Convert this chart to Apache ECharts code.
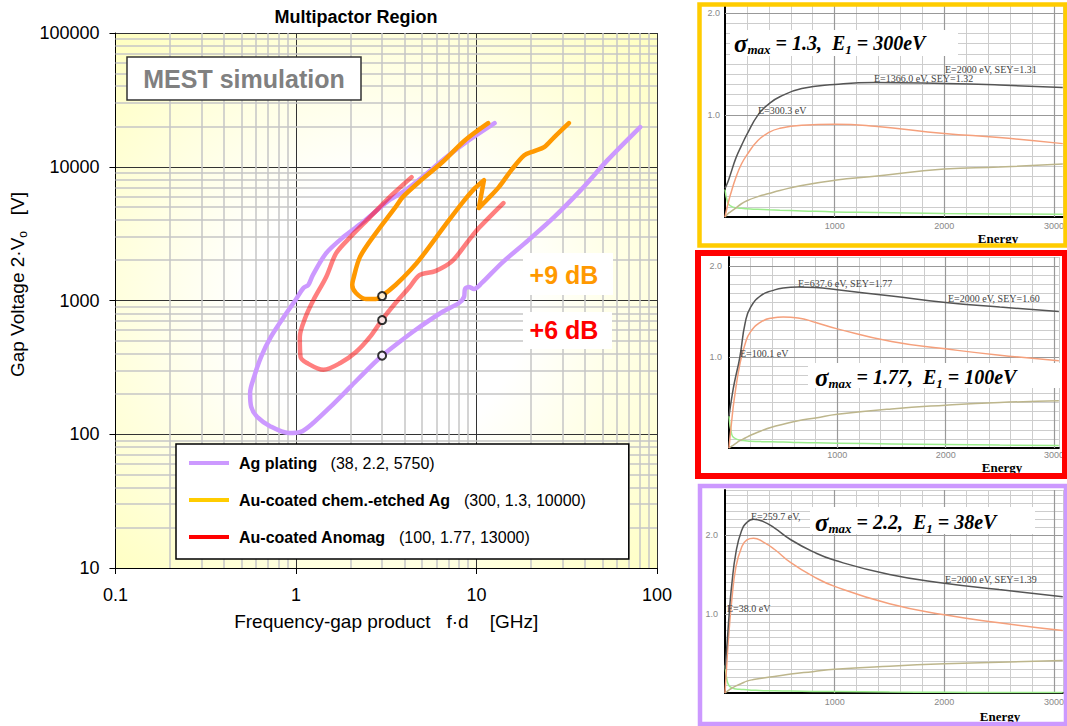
<!DOCTYPE html>
<html><head><meta charset="utf-8">
<script src="https://cdn.jsdelivr.net/npm/echarts@6/dist/echarts.min.js"></script>
<style>html,body{margin:0;padding:0;background:#fff}#c{width:1067px;height:726px}</style>
</head><body><div id="c"></div>
<script>
// ================= DATA =================
// Main chart: tick labels
const xTickLabels = ['0.1', '1', '10', '100'];
const yTickLabels = ['10', '100', '1000', '10000', '100000'];
const xMinorTicks = [0.2,0.3,0.4,0.5,0.6,0.7,0.8,0.9,2,3,4,5,6,7,8,9,20,30,40,50,60,70,80,90];
const yMinorTicks = [20,30,40,50,60,70,80,90,200,300,400,500,600,700,800,900,2000,3000,4000,5000,6000,7000,8000,9000,20000,30000,40000,50000,60000,70000,80000,90000];

// Series names + legend parameter text
const seriesNames = ['Ag plating', 'Au-coated chem.-etched Ag', 'Au-coated Anomag'];
const legendParams = ['(38, 2.2, 5750)', '(300, 1.3, 10000)', '(100, 1.77, 13000)'];

// Ag plating (purple) : f·d [GHz], gap voltage [V]
const agFd = [12.6, 9.08, 6.71, 5.01, 3.90, 3.30, 2.35, 1.83, 1.47, 1.24, 1.17, 1.10, 0.995, 0.856, 0.726, 0.640, 0.586, 0.557, 0.565, 0.609, 0.726, 0.912, 1.06, 1.25, 1.55, 2.00, 2.57, 2.99, 3.56, 4.59, 6.46, 8.00, 8.53, 8.64, 9.08, 9.68, 10.7, 13.8, 19.4, 26.9, 37.8, 53.2, 80.7];
const agV  = [21200, 15800, 11600, 8360, 6460, 5640, 3860, 2980, 2260, 1550, 1306, 1240, 1010, 753, 534, 378, 268, 204, 160, 135, 114, 102, 104, 122, 160, 226, 318, 385, 465, 602, 820, 958, 1062, 1218, 1262, 1218, 1352, 1906, 2830, 4200, 6690, 11200, 19800];

// Au-coated chem.-etched Ag (orange)
const auFd = [11.6, 8.64, 6.46, 5.01, 3.90, 3.56, 2.77, 2.26, 2.07, 2.05, 2.15, 2.44, 2.77, 2.99, 3.56, 4.31, 5.01, 6.71, 8.32, 9.80, 11.0, 10.3, 11.4, 13.3, 15.6, 18.4, 20.9, 23.7, 26.9, 32.5];
const auV  = [21200, 15800, 10800, 8080, 5930, 4990, 3190, 2110, 1420, 1306, 1138, 1026, 1026, 1081, 1306, 1690, 2150, 3660, 5350, 6920, 7940, 4910, 5640, 7040, 9440, 12200, 13100, 14000, 16600, 21200];

// Au-coated Anomag (red)
const anFd = [4.37, 3.30, 2.57, 2.00, 1.67, 1.47, 1.25, 1.13, 1.05, 1.06, 1.15, 1.42, 1.76, 2.15, 2.57, 2.99, 3.56, 4.26, 4.83, 5.91, 7.33, 9.08, 10.3, 14.1];
const anV  = [8360, 5930, 4200, 2980, 2260, 1500, 1010, 753, 534, 378, 341, 303, 341, 412, 534, 714, 958, 1262, 1550, 1660, 1970, 2830, 3480, 5350];

// Marked operating points
const dotFd = [3, 3, 3];
const dotV  = [1080, 714, 387];

// Inset SEY panels : energy [eV] vs SEY
const insetMajorE = [1000, 2000, 3000];
const insetMajorSEY = [1, 2];

const p1Energy  = [0, 25, 50, 100, 150, 200, 300, 400, 500, 700, 1000, 1366, 2000, 2500, 3080];
const p1Total   = [0.28, 0.34, 0.42, 0.58, 0.70, 0.81, 1.0, 1.11, 1.18, 1.26, 1.30, 1.32, 1.31, 1.295, 1.27];
const p1True    = [0, 0.12, 0.22, 0.39, 0.52, 0.61, 0.75, 0.83, 0.87, 0.90, 0.91, 0.89, 0.82, 0.78, 0.72];
const p1Rediff  = [0, 0.03, 0.05, 0.09, 0.13, 0.16, 0.20, 0.23, 0.26, 0.31, 0.36, 0.40, 0.47, 0.49, 0.52];
const p1Elastic = [0.27, 0.14, 0.11, 0.09, 0.085, 0.08, 0.075, 0.07, 0.066, 0.06, 0.05, 0.045, 0.035, 0.03, 0.026];

const p2Energy  = [0, 25, 50, 100, 150, 200, 300, 400, 500, 637.6, 800, 1000, 1500, 2000, 2500, 3045];
const p2Total   = [0.35, 0.55, 0.72, 1.0, 1.38, 1.55, 1.68, 1.73, 1.76, 1.77, 1.765, 1.74, 1.67, 1.60, 1.55, 1.50];
const p2True    = [0, 0.30, 0.55, 0.92, 1.15, 1.28, 1.39, 1.43, 1.44, 1.43, 1.38, 1.31, 1.17, 1.09, 1.02, 0.96];
const p2Rediff  = [0, 0.02, 0.04, 0.08, 0.11, 0.14, 0.19, 0.23, 0.26, 0.30, 0.33, 0.37, 0.43, 0.47, 0.50, 0.52];
const p2Elastic = [0.35, 0.15, 0.11, 0.085, 0.08, 0.075, 0.07, 0.068, 0.065, 0.06, 0.057, 0.053, 0.045, 0.038, 0.032, 0.028];

const p3Energy  = [0, 20, 38, 60, 100, 150, 200, 259.7, 350, 450, 600, 800, 1000, 1500, 2000, 2500, 3080];
const p3Total   = [0.3, 0.65, 1.0, 1.35, 1.78, 2.05, 2.16, 2.20, 2.17, 2.09, 1.94, 1.79, 1.68, 1.50, 1.39, 1.31, 1.22];
const p3True    = [0, 0.45, 0.8, 1.15, 1.60, 1.84, 1.94, 1.96, 1.91, 1.82, 1.65, 1.48, 1.35, 1.13, 0.99, 0.89, 0.79];
const p3Rediff  = [0, 0.02, 0.04, 0.06, 0.09, 0.12, 0.15, 0.17, 0.19, 0.21, 0.24, 0.27, 0.30, 0.34, 0.37, 0.39, 0.41];
const p3Elastic = [0.35, 0.15, 0.09, 0.07, 0.05, 0.045, 0.04, 0.035, 0.03, 0.028, 0.025, 0.02, 0.018, 0.012, 0.008, 0.006, 0.005];

// ================= CHART =================
const SANS = 'Liberation Sans, Arial, sans-serif';
const SERIF = 'Liberation Serif, Times New Roman, serif';
const zip = (a, b) => a.map((v, i) => [v, b[i]]);
const findLabel = (labels, v) => {
  for (const l of labels) { if (Math.abs(Math.log10(parseFloat(l)) - Math.log10(v)) < 1e-6) return l; }
  return '';
};

const chart = echarts.init(document.getElementById('c'), null, {renderer: 'svg'});

const insetGrids = [
  {left: 725, top: 4, width: 339, height: 213},
  {left: 729, top: 257, width: 335, height: 191},
  {left: 725, top: 490, width: 339, height: 203}
];
const insetXMax = [3080, 3045, 3080];
const insetYMax = [2.09, 2.1, 2.57];
const insetXMargin = [4, 2, 4];
const insetYMargin = [5, 7, 7];
const panels = [
  [p1Energy, p1Total, p1True, p1Rediff, p1Elastic],
  [p2Energy, p2Total, p2True, p2Rediff, p2Elastic],
  [p3Energy, p3Total, p3True, p3Rediff, p3Elastic]
];
const insetColors = ['#555555', '#f5a07c', '#bdb68c', '#9ced8c'];

const grids = [{left: 110, top: 33, width: 547, height: 535, show: true, borderWidth: 0,
  backgroundColor: {type: 'radial', x: 0.5, y: 0.52, r: 0.72, colorStops: [
    {offset: 0, color: '#ffffff'}, {offset: 0.35, color: '#ffffff'}, {offset: 1, color: '#ffffc0'}]}}]
  .concat(insetGrids.map(g => Object.assign({show: true, backgroundColor: '#fff', borderWidth: 0}, g)));

const xAxes = [{
  type: 'log', logBase: 10, min: 0.1, max: 100, gridIndex: 0,
  name: 'Frequency-gap product   f·d    [GHz]', nameLocation: 'middle', nameGap: 44,
  nameTextStyle: {fontSize: 19, color: '#000', fontFamily: SANS},
  axisLine: {show: true, onZero: false, lineStyle: {color: '#000', width: 1}},
  axisTick: {show: true, length: 6, lineStyle: {color: '#000'}},
  axisLabel: {fontSize: 18, color: '#000', fontFamily: SANS, margin: 18, formatter: v => findLabel(xTickLabels, v)},
  splitLine: {show: true, lineStyle: {color: '#333', width: 1}}
}];
const yAxes = [{
  type: 'log', logBase: 10, min: 10, max: 100000, gridIndex: 0,
  name: '{a|Gap Voltage 2·V}{s|o}{a|   [V]}', nameLocation: 'middle', nameGap: 82,
  nameTextStyle: {color: '#000', padding: [0, 0, 0, 32],
    rich: {a: {fontSize: 19, fontFamily: SANS, color: '#000', lineHeight: 22},
           s: {fontSize: 12, fontFamily: SANS, color: '#000', verticalAlign: 'bottom', lineHeight: 14}}},
  axisLine: {show: true, onZero: false, lineStyle: {color: '#000', width: 1}},
  axisTick: {show: true, length: 6, lineStyle: {color: '#000'}},
  axisLabel: {fontSize: 18, color: '#000', fontFamily: SANS, margin: 16, formatter: v => findLabel(yTickLabels, v)},
  splitLine: {show: true, lineStyle: {color: '#333', width: 1}}
}];
insetGrids.forEach((g, i) => {
  xAxes.push({
    type: 'value', gridIndex: i + 1, min: 0, max: insetXMax[i], interval: 200,
    axisLine: {show: true, onZero: false, lineStyle: {color: '#000', width: 2}},
    axisTick: {show: false},
    axisLabel: {fontSize: 9, color: '#888', fontFamily: SANS, margin: insetXMargin[i],
      formatter: v => (v > 0 && insetMajorE.indexOf(v) >= 0) ? String(v) : ''},
    splitLine: {show: true, lineStyle: {color: '#cdcdcd', width: 1}}
  });
  yAxes.push({
    type: 'value', gridIndex: i + 1, min: 0, max: insetYMax[i], interval: 0.1,
    axisLine: {show: true, onZero: false, lineStyle: {color: '#000', width: 2}},
    axisTick: {show: false},
    axisLabel: {fontSize: 9, color: '#888', fontFamily: SANS, margin: insetYMargin[i],
      formatter: v => insetMajorSEY.some(s => Math.abs(s - v) < 1e-6) ? v.toFixed(1) : ''},
    splitLine: {show: true, lineStyle: {color: '#cdcdcd', width: 1}}
  });
});

const series = [];
// main minor grid lines
series.push({
  type: 'line', name: 'minor-grid', xAxisIndex: 0, yAxisIndex: 0, data: [], silent: true, z: 1,
  markLine: {silent: true, z: 1, symbol: ['none', 'none'], animation: false, label: {show: false},
    lineStyle: {color: '#c6c6c6', width: 1.5, type: 'solid'}, emphasis: {disabled: true},
    data: xMinorTicks.map(v => ({xAxis: v})).concat(yMinorTicks.map(v => ({yAxis: v})))}
});
const mainColors = ['#cc99ff', '#ff9900', 'rgba(255,0,0,0.5)'];
const mainData = [zip(agFd, agV), zip(auFd, auV), zip(anFd, anV)];
[0, 2, 1].forEach(i => {
  series.push({
    type: 'line', name: seriesNames[i], xAxisIndex: 0, yAxisIndex: 0, data: mainData[i],
    symbol: 'none', showSymbol: false, smooth: 0.3, silent: true, z: 3,
    lineStyle: {color: mainColors[i], width: 4.5, cap: 'round', join: 'round'}, itemStyle: {color: mainColors[i]}
  });
});
series.push({
  type: 'scatter', name: 'points', xAxisIndex: 0, yAxisIndex: 0, data: zip(dotFd, dotV),
  symbol: 'circle', symbolSize: 8, silent: true, z: 5,
  itemStyle: {color: '#fff', borderColor: '#000', borderWidth: 2}
});
panels.forEach((p, k) => {
  series.push({
    type: 'line', name: 'major-' + k, xAxisIndex: k + 1, yAxisIndex: k + 1, data: [], silent: true, z: 1,
    markLine: {silent: true, z: 1, symbol: ['none', 'none'], animation: false, label: {show: false},
      lineStyle: {color: '#999', width: 1.2, type: 'solid'}, emphasis: {disabled: true},
      data: insetMajorE.map(v => ({xAxis: v})).concat(insetMajorSEY.map(v => ({yAxis: v})))}
  });
  [4, 3, 2, 1].forEach(c => {
    series.push({
      type: 'line', name: 'sey-' + k + '-' + c, xAxisIndex: k + 1, yAxisIndex: k + 1,
      data: zip(p[0], p[c]), symbol: 'none', showSymbol: false, smooth: true, silent: true, z: 3,
      lineStyle: {color: insetColors[c - 1], width: 1.5}
    });
  });
});

function sigmaTitle(smax, e1) {
  return '{g|σ}{m|max}{t| = ' + smax + ',  E}{m|1}{t| = ' + e1 + 'eV}';
}
const titleRich = {
  g: {fontFamily: SERIF, fontStyle: 'italic', fontWeight: 'bold', fontSize: 25, lineHeight: 26, fill: '#000'},
  t: {fontFamily: SERIF, fontStyle: 'italic', fontWeight: 'bold', fontSize: 20, lineHeight: 26, fill: '#000'},
  m: {fontFamily: SERIF, fontStyle: 'italic', fontWeight: 'bold', fontSize: 13, lineHeight: 13, verticalAlign: 'bottom', fill: '#000'}
};
const annot = (x, y, text) => ({type: 'text', x: x, y: y, z: 50,
  style: {text: text, font: '10px ' + SERIF, fill: '#444', align: 'left', verticalAlign: 'middle'}});
const energyLbl = (x, y) => ({type: 'text', x: x, y: y, z: 50,
  style: {text: 'Energy', font: 'bold 13px ' + SERIF, fill: '#000', align: 'center', verticalAlign: 'middle'}});

const graphics = [
  // MEST box
  {type: 'rect', z: 50, shape: {x: 127, y: 57, width: 234, height: 43}, style: {fill: '#fff', stroke: '#333', lineWidth: 1.5}},
  {type: 'text', z: 51, x: 244, y: 79, style: {text: 'MEST simulation', font: 'bold 25px ' + SANS, fill: '#808080', align: 'center', verticalAlign: 'middle'}},
  // dB labels
  {type: 'rect', z: 50, shape: {x: 523, y: 253, width: 90, height: 42}, style: {fill: '#fff'}},
  {type: 'text', z: 51, x: 564, y: 275, style: {text: '+9 dB', font: 'bold 25px ' + SANS, fill: '#ff9900', align: 'center', verticalAlign: 'middle'}},
  {type: 'rect', z: 50, shape: {x: 523, y: 312, width: 89, height: 37}, style: {fill: '#fff'}},
  {type: 'text', z: 51, x: 564, y: 330, style: {text: '+6 dB', font: 'bold 25px ' + SANS, fill: '#ff0000', align: 'center', verticalAlign: 'middle'}},
  // inset title boxes
  {type: 'rect', z: 50, shape: {x: 730, y: 30, width: 228, height: 26}, style: {fill: '#fff'}},
  {type: 'text', z: 51, x: 734, y: 43, style: {text: sigmaTitle('1.3', '300'), rich: titleRich, align: 'left', verticalAlign: 'middle'}},
  {type: 'rect', z: 50, shape: {x: 808, y: 363, width: 256, height: 25}, style: {fill: '#fff'}},
  {type: 'text', z: 51, x: 815, y: 377, style: {text: sigmaTitle('1.77', '100'), rich: titleRich, align: 'left', verticalAlign: 'middle'}},
  {type: 'rect', z: 50, shape: {x: 810, y: 507, width: 225, height: 27}, style: {fill: '#fff'}},
  {type: 'text', z: 51, x: 815, y: 522, style: {text: sigmaTitle('2.2', '38'), rich: titleRich, align: 'left', verticalAlign: 'middle'}},
  // annotations
  annot(945, 69, 'E=2000 eV, SEY=1.31'), annot(874, 78, 'E=1366.0 eV, SEY=1.32'), annot(758, 110, 'E=300.3 eV'),
  annot(798, 283, 'E=637.6 eV, SEY=1.77'), annot(948, 298, 'E=2000 eV, SEY=1.60'), annot(740, 353, 'E=100.1 eV'),
  annot(751, 516, 'E=259.7 eV,'), annot(945, 579, 'E=2000 eV, SEY=1.39'), annot(727, 608, 'E=38.0 eV'),
  energyLbl(998, 238), energyLbl(1002, 467), energyLbl(1000, 716),
  // frames
  {type: 'rect', z: 60, shape: {x: 699.5, y: 4.5, width: 366, height: 241}, style: {fill: 'none', stroke: '#ffcc00', lineWidth: 4.5}},
  {type: 'rect', z: 60, shape: {x: 698, y: 253, width: 367, height: 223}, style: {fill: 'none', stroke: '#ff0000', lineWidth: 6}},
  {type: 'rect', z: 60, shape: {x: 700, y: 486, width: 366, height: 238}, style: {fill: 'none', stroke: '#cc99ff', lineWidth: 4.5}}
];

const option = {
  animation: false,
  backgroundColor: '#fff',
  title: {text: 'Multipactor Region', left: 356, top: 8, textAlign: 'center', padding: 0,
    textStyle: {fontSize: 18, fontWeight: 'bold', fontFamily: SANS, color: '#000'}},
  legend: {
    left: 176, top: 444, orient: 'vertical', selectedMode: false, z: 20,
    backgroundColor: '#fff', borderColor: '#000', borderWidth: 1.5, borderRadius: 0,
    padding: [11, 43, 14, 13], itemGap: 21, itemWidth: 40, itemHeight: 4, icon: 'rect',
    data: [
      {name: seriesNames[0], itemStyle: {color: '#cc99ff'}},
      {name: seriesNames[1], itemStyle: {color: '#ffcc00'}},
      {name: seriesNames[2], itemStyle: {color: '#ff0000'}}
    ],
    formatter: name => '{b|' + name + '}    {n|' + legendParams[seriesNames.indexOf(name)] + '}',
    textStyle: {padding: [0, 0, 0, 5], rich: {
      b: {fontWeight: 'bold', fontSize: 16, fontFamily: SANS, color: '#000', lineHeight: 20},
      n: {fontSize: 16, fontFamily: SANS, color: '#000', lineHeight: 20}}}
  },
  grid: grids,
  xAxis: xAxes,
  yAxis: yAxes,
  series: series,
  graphic: graphics
};
chart.setOption(option);
</script></body></html>
